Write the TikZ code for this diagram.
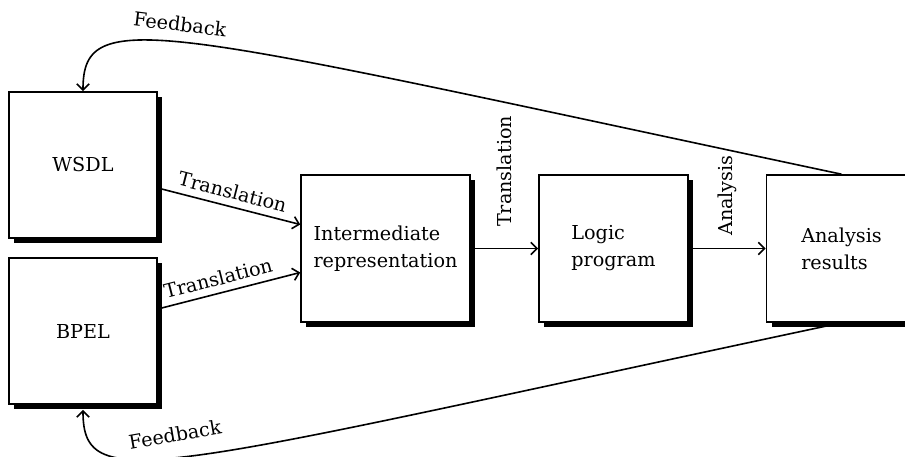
\documentclass[tikz,border=0pt]{standalone}
\usepackage{fontspec}
\setmainfont{DejaVu Serif}
\usetikzlibrary{arrows.meta, shadows}

\begin{document}
\begin{tikzpicture}[
    ->, >=Straight Barb, node distance=114pt, line width=0.8pt,
    every node/.style={font=\fontsize{9.6}{13.5}\selectfont},
    box/.style={draw, fill=white, align=left, minimum width=74.5pt, minimum height=73.5pt,
        drop shadow={shadow xshift=2.5pt, shadow yshift=-2.5pt, fill=black, opacity=1}}
]
\useasboundingbox (-41.5pt,-145.5pt) rectangle (411pt,82.5pt);
\node (wsdl_node) [box, minimum width=74pt, minimum height=73pt] at (0,0) {WSDL};
\node (bpel_node) [box, minimum width=74pt, minimum height=73pt, below of=wsdl_node, yshift=31pt] {BPEL};
\node (intermediate_repr) [box, minimum width=84.5pt, right of=wsdl_node, xshift=37.25pt, yshift=-41.75pt] {Intermediate\\representation};
\node (logic_program) [box, right of=intermediate_repr] {Logic\\program};
\node (analysis_results) [box, minimum width=75pt, right of=logic_program] {Analysis\\results};
\draw ([yshift=-11.5pt]wsdl_node.east) -- node[sloped, above] {Translation} ([yshift=12pt]intermediate_repr.west);
\draw ([yshift=11pt]bpel_node.east) -- node[sloped, above, pos=0.45] {Translation} ([yshift=-12pt]intermediate_repr.west);
\draw (intermediate_repr) -- node[rotate=90, anchor=west, outer sep=7.5pt] {Translation} (logic_program);
\draw (logic_program) -- node[rotate=90, anchor=west, outer sep=3pt] {Analysis} (analysis_results);
\draw (analysis_results.north) to[out=168, in=90, out distance=350pt, in distance=44pt] (wsdl_node.north);
\draw (analysis_results.south) to[out=192, in=-90, out distance=350pt, in distance=44pt] ([yshift=-2.5pt]bpel_node.south);
\node (feedback_top) [rotate=-7] at ([shift={(48.5pt,33.5pt)}]wsdl_node.north) {Feedback};
\node (feedback_bottom) [rotate=10] at ([shift={(46pt,-15pt)}]bpel_node.south) {Feedback};
\end{tikzpicture}
\end{document}
